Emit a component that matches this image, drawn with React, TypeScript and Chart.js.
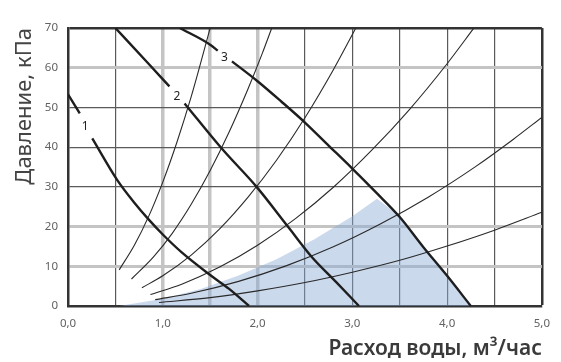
import React, { useEffect, useRef } from "react";
import { Chart, registerables } from "chart.js";

Chart.register(...registerables);

// ---- axis ticks ----
const xTickValues = [0, 0.5, 1, 1.5, 2, 2.5, 3, 3.5, 4, 4.5, 5];
const xTickLabels = ["0,0", "", "1,0", "", "2,0", "", "3,0", "", "4,0", "", "5,0"];
const yTickValues = [0, 10, 20, 30, 40, 50, 60, 70];
const yTickLabels = ["0", "10", "20", "30", "40", "50", "60", "70"];
const xGrayLines = [1, 1.5, 2];
const yGrayLines = [10, 20, 60];

const xTitle = "Расход воды, м³/час";
const yTitle = "Давление, кПа";

// ---- pump curves (thick), null = gap for the curve number ----
const pump1: [number, number | null][] = [
  [0, 53.3], [0.124, 48.5], [0.19, null], [0.256, 42.2], [0.52, 31.7], [0.7, 26.0],
  [0.85, 21.8], [1.0, 18.0], [1.2, 13.5], [1.5, 7.8], [1.7, 4.3], [1.91, 0],
];
const pump2: [number, number | null][] = [
  [0.5, 70], [0.85, 61.0], [1.07, 55.3], [1.15, null], [1.23, 51.0], [1.62, 39.7],
  [1.99, 30.0], [2.32, 20.0], [2.57, 12.4], [2.83, 6.0], [3.07, 0],
];
const pump3: [number, number | null][] = [
  [1.18, 70], [1.5, 65.8], [1.58, 64.3], [1.65, null], [1.73, 61.6], [2.0, 56.6],
  [2.25, 51.5], [2.5, 46.2], [2.75, 40.4], [3.0, 34.6], [3.25, 28.6], [3.5, 22.4],
  [3.75, 14.8], [4.0, 7.6], [4.25, 0],
];
const pumpLabels = ["1", "2", "3"];
const pumpLabelPos: [number, number][] = [[0.18, 45.2], [1.15, 52.8], [1.65, 62.6]];

// ---- valve / system curves (thin) ----
const sys1: [number, number][] = [
  [0.54, 9.1], [0.7, 15.3], [0.85, 22.5], [1.0, 31.2], [1.15, 41.3], [1.3, 52.7], [1.4, 61.2], [1.5, 70.0],
];
const sys2: [number, number][] = [
  [0.67, 6.8], [0.9, 12.3], [1.1, 18.3], [1.3, 25.6], [1.5, 34.1], [1.7, 43.8], [1.9, 54.7], [2.05, 63.6], [2.15, 70.0],
];
const sys3: [number, number][] = [
  [0.78, 4.6], [1.0, 7.6], [1.3, 12.8], [1.6, 19.4], [1.9, 27.4], [2.2, 36.7], [2.5, 47.4], [2.8, 59.5], [3.037, 70.0],
];
const sys4: [number, number][] = [
  [0.87, 2.9], [1.2, 5.5], [1.6, 9.8], [2.0, 15.3], [2.4, 22.0], [2.8, 29.9], [3.2, 39.1], [3.6, 49.4], [4.0, 61.0], [4.28, 69.9],
];
const sys5: [number, number][] = [
  [0.92, 1.6], [1.3, 3.2], [1.8, 6.2], [2.3, 10.1], [2.8, 14.9], [3.3, 20.7], [3.8, 27.4], [4.3, 35.1], [4.7, 42.0], [5.0, 47.5],
];
const sys6: [number, number][] = [
  [0.96, 0.9], [1.5, 2.1], [2.0, 3.8], [2.5, 5.9], [3.0, 8.5], [3.5, 11.5], [4.0, 15.1], [4.5, 19.1], [5.0, 23.6],
];

// ---- shaded working zone ----
const zone: [number, number][] = [
  [0.54, 0], [1.0, 1.85], [1.4, 4.3], [1.8, 7.7], [2.2, 11.8], [2.6, 16.8], [3.0, 22.6], [3.26, 27.0],
  [3.47, 23.2], [3.75, 14.8], [4.0, 7.6], [4.25, 0],
];

const FONT = "'Noto Sans', 'Open Sans', sans-serif";

const toPts = (arr: [number, number | null][]) => arr.map(([x, y]) => ({ x, y }));

export default function App() {
  const ref = useRef<HTMLCanvasElement | null>(null);

  useEffect(() => {
    if (!ref.current) return;

    const textPlugin = {
      id: "chartTexts",
      afterDatasetsDraw(chart: any) {
        const { ctx, scales } = chart;
        ctx.save();
        ctx.font = `12px ${FONT}`;
        ctx.fillStyle = "#222";
        ctx.textAlign = "center";
        ctx.textBaseline = "middle";
        pumpLabels.forEach((t, i) => {
          const [x, y] = pumpLabelPos[i];
          ctx.fillText(t, scales.x.getPixelForValue(x), scales.y.getPixelForValue(y));
        });
        ctx.restore();
      },
      afterDraw(chart: any) {
        const { ctx, chartArea } = chart;
        ctx.save();
        // x axis title, right aligned to the plot's right edge
        ctx.font = `600 21px ${FONT}`;
        ctx.fillStyle = "#3a3a3a";
        ctx.textAlign = "right";
        ctx.textBaseline = "alphabetic";
        ctx.fillText(xTitle, chartArea.right, chartArea.bottom + 49);
        // y axis title, rotated, its end at the plot's top
        ctx.translate(chartArea.left - 37, chartArea.top);
        ctx.rotate(-Math.PI / 2);
        ctx.font = `22px ${FONT}`;
        ctx.fillStyle = "#444";
        ctx.textAlign = "right";
        ctx.textBaseline = "alphabetic";
        ctx.fillText(yTitle, 0, 0);
        ctx.restore();
      },
    };

    const thick = (data: [number, number | null][]) => ({
      data: toPts(data),
      borderColor: "#1e1e1e",
      borderWidth: 2.4,
      pointRadius: 0,
      fill: false,
      spanGaps: false,
      cubicInterpolationMode: "monotone" as const,
      order: 1,
    });
    const thin = (data: [number, number][]) => ({
      data: toPts(data),
      borderColor: "#2a2a2a",
      borderWidth: 1.1,
      pointRadius: 0,
      fill: false,
      cubicInterpolationMode: "monotone" as const,
      order: 2,
    });

    const chart = new Chart(ref.current, {
      type: "line",
      data: {
        datasets: [
          thick(pump1),
          thick(pump2),
          thick(pump3),
          thin(sys1),
          thin(sys2),
          thin(sys3),
          thin(sys4),
          thin(sys5),
          thin(sys6),
          {
            data: toPts(zone),
            borderWidth: 0,
            borderColor: "rgba(0,0,0,0)",
            backgroundColor: "rgba(140,170,215,0.45)",
            pointRadius: 0,
            fill: "origin",
            tension: 0,
            order: 10,
          } as any,
        ],
      },
      options: {
        animation: false,
        responsive: false,
        maintainAspectRatio: false,
        events: [],
        layout: { padding: { left: 0, right: 10, top: 28, bottom: 0 } },
        plugins: {
          legend: { display: false },
          tooltip: { enabled: false },
          title: { display: false },
        },
        scales: {
          x: {
            type: "linear",
            min: 0,
            max: 5,
            afterBuildTicks: (s: any) => {
              s.ticks = xTickValues.map((v) => ({ value: v }));
            },
            afterFit: (s: any) => {
              s.height = 56;
            },
            ticks: {
              autoSkip: false,
              maxRotation: 0,
              padding: 11,
              color: "#626262",
              font: { family: FONT, size: 11.5 },
              callback: (v: any) => {
                const i = xTickValues.indexOf(Number(v));
                return i >= 0 ? xTickLabels[i] : "";
              },
            },
            grid: {
              drawTicks: false,
              color: (c: any) => {
                const v = c.tick?.value;
                if (v === 5) return "#333";
                if (xGrayLines.includes(v)) return "#c4c4c4";
                return "#5a5a5a";
              },
              lineWidth: (c: any) => {
                const v = c.tick?.value;
                if (v === 5) return 2.5;
                if (xGrayLines.includes(v)) return 3.5;
                return 1.2;
              },
            },
            border: { display: true, color: "#333", width: 2.5 },
            title: { display: false },
          },
          y: {
            type: "linear",
            min: 0,
            max: 70,
            afterBuildTicks: (s: any) => {
              s.ticks = yTickValues.map((v) => ({ value: v }));
            },
            afterFit: (s: any) => {
              s.width = 68;
            },
            ticks: {
              autoSkip: false,
              padding: 10,
              color: "#626262",
              font: { family: FONT, size: 11.5 },
              callback: (v: any) => {
                const i = yTickValues.indexOf(Number(v));
                return i >= 0 ? yTickLabels[i] : "";
              },
            },
            grid: {
              drawTicks: false,
              color: (c: any) => {
                const v = c.tick?.value;
                if (v === 70) return "#333";
                if (yGrayLines.includes(v)) return "#c4c4c4";
                return "#5a5a5a";
              },
              lineWidth: (c: any) => {
                const v = c.tick?.value;
                if (v === 70) return 2.5;
                if (yGrayLines.includes(v)) return 3;
                return 1.2;
              },
            },
            border: { display: true, color: "#333", width: 2.5 },
            title: { display: false },
          },
        },
      } as any,
      plugins: [textPlugin],
    });

    return () => chart.destroy();
  }, []);

  return (
    <div style={{ position: "absolute", left: 0, top: 0, width: 561, height: 362, background: "#fff" }}>
      <canvas ref={ref} width={561} height={362} style={{ width: 561, height: 362, display: "block" }} />
    </div>
  );
}
